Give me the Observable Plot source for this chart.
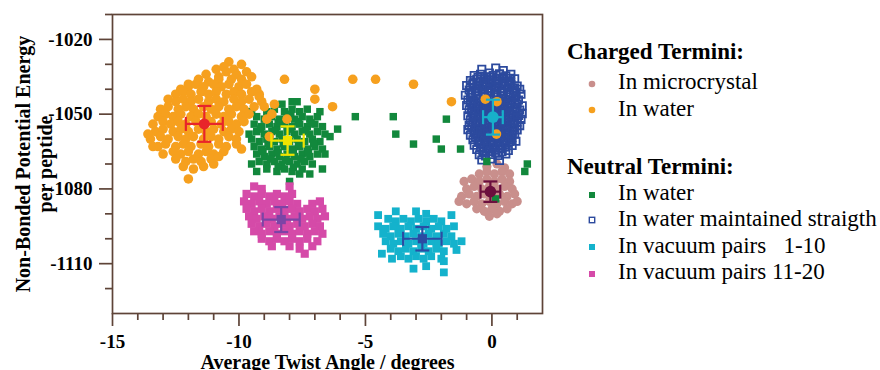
<!DOCTYPE html>
<html>
<head>
<meta charset="utf-8">
<script src="https://cdn.jsdelivr.net/npm/d3@7"></script>
<script src="https://cdn.jsdelivr.net/npm/@observablehq/plot@0.6"></script>
<style>
  html, body { margin: 0; padding: 0; background: #fff; }
  #wrap { position: relative; width: 880px; height: 370px; overflow: hidden;
          font-family: "Liberation Serif", "Times New Roman", serif; color: #000; }
  #chart { position: absolute; left: 0; top: 0; }
  .row { position: absolute; height: 26px; line-height: 26px; white-space: pre; font-size: 23px;
         font-family: "Liberation Serif", "Times New Roman", serif; }
  .hdr { font-weight: bold; }
  .mk { position: absolute; }
</style>
</head>
<body>
<div id="wrap"><div id="chart"></div></div>
<script>
// ---------------- data ----------------
const xMajorTicks = [-15, -10, -5, 0];
const xMinorTicks = [-14, -13, -12, -11, -9, -8, -7, -6, -4, -3, -2, -1, 1];
const yMajorTicks = [-1020, -1050, -1080, -1110];
const yMinorTicks = [-1010, -1030, -1040, -1060, -1070, -1090, -1100, -1120];

const xTitle = "Average Twist Angle / degrees";
const yTitle = "Non-Bonded Potential Energy\nper peptide";

const legendHeaders = ["Charged Termini:", "Neutral Termini:"];
const chargedLabels = ["In microcrystal", "In water"];
const neutralLabels = ["In water", "In water maintained straigth", "In vacuum pairs   1-10", "In vacuum pairs 11-20"];

// Charged termini, in microcrystal (circles)
const microcrystalPts = [
  [-0.2,-1071],[0.2,-1070],[0.5,-1071.5],
  [-0.5,-1074],[-0.2,-1073],[0.1,-1074],[0.4,-1073],[0.7,-1074],
  [-1.1,-1077],[-0.8,-1076],[-0.5,-1077],[-0.2,-1076],[0.1,-1077],[0.4,-1076],[0.7,-1077],
  [-1.0,-1080],[-0.7,-1079],[-0.4,-1080],[-0.1,-1079],[0.2,-1080],[0.5,-1079],[0.8,-1080],
  [-1.2,-1083],[-0.9,-1082],[-0.6,-1083],[-0.3,-1082],[0.0,-1083],[0.3,-1082],[0.6,-1083],[0.9,-1082],
  [-1.3,-1085],[-1.0,-1086],[-0.7,-1085],[-0.4,-1086],[-0.1,-1085],[0.2,-1086],[0.5,-1085],[0.8,-1086],[1.0,-1085],
  [-0.6,-1088],[-0.3,-1089],[0.0,-1088],[0.3,-1089],[0.6,-1088],
  [-0.1,-1091],[0.2,-1090]
];

// Charged termini, in water (circles)
const chargedWaterPts = [
  [-10.4,-1029],[-10.9,-1032],[-10.6,-1031],[-10.2,-1032],[-9.9,-1030],
  [-11.3,-1034],[-10.8,-1035],[-10.5,-1033],[-10.1,-1034],[-9.7,-1033],
  [-12.0,-1038],[-11.6,-1036],[-11.2,-1037],[-10.8,-1036],[-10.3,-1036],[-9.9,-1036],[-9.5,-1035],
  [-12.3,-1040],[-12.0,-1039],[-11.7,-1038],[-11.4,-1039],[-11.0,-1038],[-10.7,-1039],[-10.4,-1038],[-10.0,-1039],[-9.7,-1038],[-9.3,-1040],
  [-12.5,-1042],[-12.2,-1041],[-11.9,-1042],[-11.5,-1041],[-11.2,-1042],[-10.9,-1041],[-10.5,-1042],[-10.2,-1041],[-9.9,-1042],[-9.5,-1041],[-9.2,-1042],
  [-12.8,-1044],[-12.5,-1045],[-12.2,-1044],[-11.9,-1045],[-11.6,-1044],[-11.2,-1045],[-10.9,-1044],[-10.6,-1045],[-10.2,-1044],[-9.9,-1045],[-9.6,-1044],[-9.1,-1045],
  [-13.1,-1048],[-12.8,-1047],[-12.4,-1048],[-12.1,-1047],[-11.8,-1048],[-11.4,-1047],[-11.1,-1048],[-10.8,-1047],[-10.4,-1048],[-10.1,-1047],[-9.8,-1048],[-9.4,-1047],
  [-13.2,-1051],[-12.9,-1050],[-12.6,-1051],[-12.3,-1050],[-11.9,-1051],[-11.6,-1050],[-11.3,-1051],[-10.9,-1050],[-10.6,-1051],[-10.3,-1050],[-9.9,-1051],[-9.6,-1050],
  [-13.4,-1054],[-13.0,-1053],[-12.7,-1054],[-12.4,-1053],[-12.1,-1054],[-11.7,-1053],[-11.4,-1054],[-11.1,-1053],[-10.7,-1054],[-10.4,-1053],[-10.1,-1054],[-9.8,-1053],
  [-13.3,-1057],[-13.0,-1056],[-12.6,-1057],[-12.3,-1056],[-12.0,-1057],[-11.6,-1056],[-11.3,-1057],[-11.0,-1056],[-10.6,-1057],[-10.3,-1056],[-10.0,-1057],
  [-13.5,-1060],[-13.1,-1059],[-12.8,-1060],[-12.4,-1059],[-12.1,-1060],[-11.8,-1059],[-11.4,-1060],[-11.1,-1059],[-10.8,-1060],[-10.4,-1059],[-10.1,-1060],
  [-13.2,-1063],[-12.9,-1062],[-12.5,-1063],[-12.2,-1062],[-11.9,-1063],[-11.5,-1062],[-11.2,-1063],[-10.8,-1062],[-10.5,-1063],[-10.1,-1062],
  [-13.0,-1066],[-12.6,-1065],[-12.3,-1066],[-12.0,-1065],[-11.6,-1066],[-11.3,-1065],[-11.0,-1066],[-10.6,-1065],[-9.9,-1064],
  [-12.5,-1068],[-12.1,-1069],[-11.8,-1068],[-11.5,-1069],[-11.1,-1068],[-10.8,-1067],
  [-12.2,-1071],[-11.8,-1072],[-11.4,-1071],[-11.0,-1070],
  [-12.0,-1076],[-13.4,-1063],[-13.6,-1058],
  [-9.2,-1043],[-9.0,-1047],[-8.6,-1046],[-8.9,-1052],[-8.7,-1050],[-8.1,-1052],[-8.8,-1059],
  [-8.2,-1036],[-7.0,-1040],[-7.0,-1044],[-6.3,-1047],[-5.5,-1036],[-4.6,-1036],[-3.1,-1038],
  [-1.6,-1045],[-0.26,-1044],[0.2,-1045],[0.18,-1058]
];

// Neutral termini, in water (filled squares)
const neutralWaterPts = [
  [-8.3,-1046],[-7.9,-1045],
  [-8.9,-1049],[-8.6,-1048],[-8.2,-1049],[-7.9,-1048],[-7.6,-1049],[-7.3,-1048],
  [-9.3,-1051],[-9.0,-1052],[-8.7,-1051],[-8.4,-1052],[-8.1,-1051],[-7.8,-1052],[-7.5,-1051],[-7.2,-1052],[-6.9,-1051],
  [-9.4,-1054],[-9.1,-1055],[-8.8,-1054],[-8.5,-1055],[-8.2,-1054],[-7.9,-1055],[-7.6,-1054],[-7.3,-1055],[-7.0,-1054],[-6.7,-1055],
  [-9.6,-1058],[-9.3,-1057],[-9.0,-1058],[-8.7,-1057],[-8.4,-1058],[-8.1,-1057],[-7.8,-1058],[-7.5,-1057],[-7.2,-1058],[-6.9,-1057],[-6.6,-1058],
  [-9.5,-1060],[-9.2,-1061],[-8.9,-1060],[-8.6,-1061],[-8.3,-1060],[-8.0,-1061],[-7.7,-1060],[-7.4,-1061],[-7.1,-1060],[-6.8,-1061],
  [-9.4,-1063],[-9.1,-1064],[-8.8,-1063],[-8.5,-1064],[-8.2,-1063],[-7.9,-1064],[-7.6,-1063],[-7.3,-1064],[-7.0,-1063],[-6.7,-1064],
  [-9.3,-1066],[-9.0,-1067],[-8.7,-1066],[-8.4,-1067],[-8.1,-1066],[-7.8,-1067],[-7.5,-1066],[-7.2,-1067],[-6.9,-1066],
  [-9.2,-1069],[-8.9,-1070],[-8.6,-1069],[-8.3,-1070],[-8.0,-1069],[-7.7,-1070],[-7.4,-1069],[-7.1,-1070],
  [-8.9,-1072],[-8.5,-1073],[-8.2,-1072],[-7.9,-1073],[-7.5,-1072],
  [-8.75,-1050.5],[-8.45,-1053.5],[-7.95,-1050],[-7.65,-1053],[-7.15,-1053.5],[-9.15,-1056],[-8.55,-1056.5],[-7.95,-1056],
  [-7.35,-1056.5],[-8.85,-1062],[-8.25,-1061.8],[-7.65,-1062.3],[-7.05,-1061.7],[-9.05,-1065],[-8.45,-1065.5],[-7.85,-1065],
  [-7.25,-1065.5],[-8.75,-1068],[-8.15,-1068.5],[-7.55,-1068],[-8.45,-1071],[-7.85,-1071.3],
  [-9.5,-1070],[-9.3,-1073],[-8.0,-1077],[-7.6,-1074],[-7.2,-1074],[-6.6,-1066],[-6.7,-1072],
  [-6.4,-1059],[-6.1,-1056],[-6.8,-1049],[-7.7,-1045],[-9.5,-1049],
  [-5.4,-1051],[-3.9,-1051],[-3.8,-1058],[-3.1,-1062],[-2.2,-1060],[-2.0,-1064],[-1.8,-1052],
  [-1.24,-1064],[-0.2,-1069],[1.4,-1070],[1.3,-1073],[0.15,-1084]
];

// Neutral termini, in water maintained straight (open squares)
const straightPts = [
  [-0.4,-1032],[-0.1,-1033.5],[0.15,-1031.5],[0.45,-1032.5],
  [-0.7,-1034.5],[-0.45,-1034],[-0.2,-1035],[0.05,-1034.5],[0.3,-1033.8],[0.55,-1034.6],[0.75,-1034],
  [-0.85,-1036.5],[-0.6,-1036],[-0.35,-1037],[-0.1,-1036.2],[0.15,-1036.8],[0.4,-1036],[0.65,-1036.6],[0.9,-1035.8],
  [-1.0,-1038.5],[-0.75,-1038],[-0.5,-1038.8],[-0.25,-1038.2],[0,-1038.6],[0.25,-1037.8],[0.5,-1038.5],[0.75,-1038.1],[1.0,-1038.7],
  [-0.9,-1040.3],[-0.65,-1040.8],[-0.4,-1040],[-0.15,-1040.6],[0.1,-1040.2],[0.35,-1040.9],[0.6,-1040.1],[0.85,-1040.5],[1.1,-1040],
  [-1.05,-1042.4],[-0.8,-1042],[-0.55,-1042.7],[-0.3,-1042.1],[-0.05,-1042.5],[0.2,-1041.9],[0.45,-1042.6],[0.7,-1042.2],[0.95,-1042.8],[1.15,-1042],
  [-0.95,-1044.3],[-0.7,-1044.8],[-0.45,-1044],[-0.2,-1044.6],[0.05,-1044.2],[0.3,-1044.9],[0.55,-1044.1],[0.8,-1044.5],[1.05,-1044.3],
  [-1.0,-1046.5],[-0.75,-1046],[-0.5,-1046.7],[-0.25,-1046.2],[0,-1046.6],[0.25,-1046.1],[0.5,-1046.8],[0.75,-1046.3],[1.0,-1046],[1.2,-1046.6],
  [-0.9,-1048.2],[-0.65,-1048.7],[-0.4,-1048.1],[-0.15,-1048.5],[0.1,-1048],[0.35,-1048.6],[0.6,-1048.2],[0.85,-1048.8],[1.1,-1048.3],
  [-0.95,-1050.6],[-0.7,-1050.1],[-0.45,-1050.5],[-0.2,-1050],[0.05,-1050.7],[0.3,-1050.2],[0.55,-1050.6],[0.8,-1050.1],[1.05,-1050.5],[1.2,-1049.8],
  [-0.85,-1052.3],[-0.6,-1052.8],[-0.35,-1052.1],[-0.1,-1052.6],[0.15,-1052.2],[0.4,-1052.9],[0.65,-1052.3],[0.9,-1052.7],[1.15,-1052.1],
  [-0.9,-1054.5],[-0.65,-1054],[-0.4,-1054.6],[-0.15,-1054.2],[0.1,-1054.8],[0.35,-1054.1],[0.6,-1054.5],[0.85,-1054],[1.1,-1054.6],
  [-0.95,-1056.2],[-0.7,-1056.7],[-0.45,-1056.1],[-0.2,-1056.5],[0.05,-1056],[0.3,-1056.6],[0.55,-1056.2],[0.8,-1056.8],[1.0,-1056.3],
  [-0.85,-1058.4],[-0.6,-1058],[-0.35,-1058.6],[-0.1,-1058.1],[0.15,-1058.7],[0.4,-1058.2],[0.65,-1058.5],[0.9,-1058],
  [-0.75,-1060.3],[-0.5,-1060.8],[-0.25,-1060.2],[0,-1060.6],[0.25,-1060.1],[0.5,-1060.7],[0.75,-1060.3],[0.95,-1060.9],
  [-0.7,-1062.5],[-0.45,-1062],[-0.2,-1062.6],[0.05,-1062.2],[0.3,-1062.8],[0.55,-1062.3],[0.8,-1062.6],
  [-0.6,-1064.2],[-0.35,-1064.7],[-0.1,-1064.1],[0.15,-1064.5],[0.4,-1064],[0.65,-1064.6],
  [-0.5,-1066.3],[-0.25,-1066.8],[0,-1066.2],[0.25,-1066.6],[0.55,-1066],
  [-0.4,-1068.4],[-0.05,-1068],[0.3,-1068.6],
  [-0.55,-1035.3],[-0.3,-1035.8],[-0.05,-1035.2],[0.2,-1035.7],[0.45,-1035.1],[0.7,-1035.6],
  [-0.75,-1037.4],[-0.5,-1037.1],[-0.25,-1037.6],[0,-1037.2],[0.25,-1037.5],[0.5,-1037],[0.75,-1037.4],
  [-0.85,-1039.2],[-0.6,-1039.7],[-0.35,-1039.1],[-0.1,-1039.6],[0.15,-1039.3],[0.4,-1039.8],[0.65,-1039.2],[0.9,-1039.5],
  [-0.8,-1041.4],[-0.55,-1041],[-0.3,-1041.5],[-0.05,-1041.1],[0.2,-1041.6],[0.45,-1041.2],[0.7,-1041.5],[0.95,-1041.1],
  [-0.85,-1043.2],[-0.6,-1043.6],[-0.35,-1043.1],[-0.1,-1043.5],[0.15,-1043],[0.4,-1043.6],[0.65,-1043.2],[0.9,-1043.4],
  [-0.85,-1045.4],[-0.6,-1045.1],[-0.35,-1045.6],[-0.1,-1045.2],[0.15,-1045.5],[0.4,-1045],[0.65,-1045.4],[0.9,-1045.2],
  [-0.8,-1047.3],[-0.55,-1047.7],[-0.3,-1047.2],[-0.05,-1047.6],[0.2,-1047.1],[0.45,-1047.5],[0.7,-1047.2],[0.95,-1047.6],
  [-0.8,-1049.4],[-0.55,-1049],[-0.3,-1049.5],[-0.05,-1049.1],[0.2,-1049.4],[0.45,-1049],[0.7,-1049.5],[0.95,-1049.2],
  [-0.75,-1051.2],[-0.5,-1051.6],[-0.25,-1051.1],[0,-1051.5],[0.25,-1051.2],[0.5,-1051.7],[0.75,-1051.1],[1.0,-1051.4],
  [-0.75,-1053.4],[-0.5,-1053],[-0.25,-1053.5],[0,-1053.1],[0.25,-1053.6],[0.5,-1053.2],[0.75,-1053.5],[1.0,-1053.1],
  [-0.8,-1055.3],[-0.55,-1055.7],[-0.3,-1055.2],[-0.05,-1055.6],[0.2,-1055.1],[0.45,-1055.5],[0.7,-1055.2],[0.9,-1055.6],
  [-0.7,-1057.4],[-0.45,-1057],[-0.2,-1057.5],[0.05,-1057.2],[0.3,-1057.6],[0.55,-1057.1],[0.8,-1057.4],
  [-0.65,-1059.2],[-0.4,-1059.6],[-0.15,-1059.1],[0.1,-1059.5],[0.35,-1059.2],[0.6,-1059.7],[0.8,-1059.3],
  [-0.55,-1061.3],[-0.3,-1061],[-0.05,-1061.5],[0.2,-1061.1],[0.45,-1061.4],[0.7,-1061],
  [-0.45,-1063.2],[-0.2,-1063.6],[0.05,-1063.1],[0.3,-1063.5],[0.55,-1063.2],
  [-0.35,-1065.3],[-0.1,-1065],[0.15,-1065.5],[0.4,-1065.1]
];

// Neutral termini, in vacuum pairs 1-10 (filled squares)
const vacuum1Pts = [
  [-3.8,-1089],[-3.0,-1089],[-2.6,-1090],[-4.5,-1090.5],[-1.6,-1090.5],
  [-4.1,-1092],[-3.8,-1093],[-3.5,-1092],[-3.2,-1093],[-2.9,-1092],[-2.6,-1093],[-2.3,-1092],[-2.0,-1093],
  [-4.5,-1095],[-4.2,-1096],[-3.9,-1095],[-3.6,-1096],[-3.3,-1095],[-3.0,-1096],[-2.7,-1095],[-2.4,-1096],[-2.1,-1095],[-1.8,-1096],[-1.5,-1095],
  [-4.3,-1098],[-4.0,-1099],[-3.7,-1098],[-3.4,-1099],[-3.1,-1098],[-2.8,-1099],[-2.5,-1098],[-2.2,-1099],[-1.9,-1098],[-1.6,-1099],
  [-4.2,-1101],[-3.9,-1102],[-3.6,-1101],[-3.3,-1102],[-3.0,-1101],[-2.7,-1102],[-2.4,-1101],[-2.1,-1102],[-1.8,-1101],[-1.5,-1102],[-1.2,-1101],
  [-4.0,-1104],[-3.7,-1105],[-3.4,-1104],[-3.1,-1105],[-2.8,-1104],[-2.5,-1105],[-2.2,-1104],[-1.9,-1105],[-1.4,-1104.5],
  [-4.35,-1106],[-3.6,-1107],[-3.3,-1108],[-3.0,-1107],[-2.7,-1108],[-2.4,-1107],[-2.0,-1108],[-3.95,-1108],
  [-3.1,-1112],[-2.6,-1111],[-1.9,-1109],[-1.9,-1113.5]
];

// Neutral termini, in vacuum pairs 11-20 (filled squares)
const vacuum2Pts = [
  [-9.4,-1079],[-9.1,-1080],[-8.0,-1079],
  [-9.7,-1082],[-9.4,-1083],[-9.1,-1082],[-8.8,-1083],[-8.5,-1082],[-8.2,-1083],[-7.9,-1082],
  [-9.8,-1085],[-9.5,-1086],[-9.2,-1085],[-8.9,-1086],[-8.6,-1085],[-8.3,-1086],[-8.0,-1085],[-7.7,-1086],[-7.1,-1086],[-6.8,-1085],
  [-9.7,-1088],[-9.4,-1089],[-9.1,-1088],[-8.8,-1089],[-8.5,-1088],[-8.2,-1089],[-7.9,-1088],[-7.6,-1089],[-7.3,-1088],[-7.0,-1089],[-6.7,-1088],
  [-9.6,-1091],[-9.3,-1092],[-9.0,-1091],[-8.7,-1092],[-8.4,-1091],[-8.1,-1092],[-7.8,-1091],[-7.5,-1092],[-7.2,-1091],[-6.9,-1092],[-6.6,-1091],
  [-9.5,-1094],[-9.2,-1095],[-8.9,-1094],[-8.6,-1095],[-8.3,-1094],[-8.0,-1095],[-7.7,-1094],[-7.4,-1095],[-7.1,-1094],[-6.8,-1095],
  [-9.4,-1097],[-9.1,-1098],[-8.8,-1097],[-8.5,-1098],[-8.2,-1097],[-7.9,-1098],[-7.6,-1097],[-7.3,-1098],[-7.0,-1097],[-6.7,-1098],
  [-9.1,-1100],[-8.8,-1101],[-8.5,-1100],[-8.2,-1101],[-7.9,-1100],[-7.6,-1101],[-7.3,-1100],[-6.9,-1101],
  [-8.7,-1103],[-8.0,-1103],[-7.6,-1104],[-7.1,-1103],[-7.4,-1106]
];

// Series means with error bars (order: microcrystal, charged water, neutral water, straight, vacuum 1-10, vacuum 11-20)
const meanX = [-0.06, -11.37, -8.08, 0.04, -2.75, -8.33];
const meanY = [-1081.1, -1053.9, -1060.6, -1051.2, -1100.0, -1092.3];
const errX  = [0.39, 0.73, 0.64, 0.39, 0.76, 0.73];
const errY  = [4.1, 7.2, 5.7, 7.0, 4.7, 5.0];

// ---------------- styles ----------------
const axisColor = "#5e4438";
const FONT = "Liberation Serif";
const C = {
  micro: "#c98f8c", chargedWater: "#f6a01e", neutralWater: "#12883c",
  straight: "#2c4a9e", vac1: "#14b2cc", vac2: "#d54aa8"
};
const meanColors = ["#6b0f3e", "#e8252a", "#f0e400", "#17b0ca", "#2b4ba3", "#7c44a6"];
const meanSymbols = ["circle", "circle", "square", "circle", "square", "square"];
const meanR = [5.8, 5.5, 5.2, 5.8, 5.2, 5.2];

const vBar = {draw(ctx, size) { const h = Math.sqrt(size / Math.PI); ctx.moveTo(0, -h); ctx.lineTo(0, h); }};
const hBar = {draw(ctx, size) { const h = Math.sqrt(size / Math.PI); ctx.moveTo(-h, 0); ctx.lineTo(h, 0); }};

const px = d => d[0], py = d => d[1];

const means = meanX.map((x, i) => ({x, y: meanY[i], ex: errX[i], ey: errY[i], i}));

const meanMarks = [];
means.forEach(m => {
  const col = meanColors[m.i];
  const one = [m];
  meanMarks.push(
    Plot.link(one, {x1: d => d.x - d.ex, x2: d => d.x + d.ex, y1: "y", y2: "y", stroke: col, strokeWidth: 2.2}),
    Plot.link(one, {x1: "x", x2: "x", y1: d => d.y - d.ey, y2: d => d.y + d.ey, stroke: col, strokeWidth: 2.2}),
    Plot.dot(one, {x: d => d.x - d.ex, y: "y", symbol: vBar, r: 7, stroke: col, strokeWidth: 2.2, fill: "none"}),
    Plot.dot(one, {x: d => d.x + d.ex, y: "y", symbol: vBar, r: 7, stroke: col, strokeWidth: 2.2, fill: "none"}),
    Plot.dot(one, {x: "x", y: d => d.y - d.ey, symbol: hBar, r: 7, stroke: col, strokeWidth: 2.2, fill: "none"}),
    Plot.dot(one, {x: "x", y: d => d.y + d.ey, symbol: hBar, r: 7, stroke: col, strokeWidth: 2.2, fill: "none"}),
    Plot.dot(one, {x: "x", y: "y", symbol: meanSymbols[m.i], r: meanR[m.i], fill: col, stroke: "none"})
  );
});

const axisCommon = {stroke: axisColor, strokeWidth: 1.7, fontFamily: FONT, fontWeight: "bold", fontSize: 19, color: "#000"};

const chart = Plot.plot({
  width: 550, height: 370,
  marginLeft: 112, marginRight: 8, marginTop: 14, marginBottom: 57,
  x: {domain: [-15, 2]},
  y: {domain: [-1130, -1010]},
  style: {fontFamily: FONT, fontSize: "19px", color: "#000", background: "transparent", overflow: "visible"},
  marks: [
    Plot.axisX({...axisCommon, ticks: xMinorTicks, tickSize: 7, tickFormat: () => "", label: null}),
    Plot.axisX({...axisCommon, ticks: xMajorTicks, tickSize: 13, tickPadding: 8, tickFormat: d => `${d}`, label: null}),
    Plot.axisY({...axisCommon, ticks: yMinorTicks, tickSize: 7, tickFormat: () => "", label: null}),
    Plot.axisY({...axisCommon, ticks: yMajorTicks, tickSize: 13, tickPadding: 7, tickFormat: d => `${d}`, label: null}),
    Plot.frame({stroke: axisColor, strokeWidth: 1.7}),
    Plot.text([xTitle], {frameAnchor: "bottom", textAnchor: "middle", lineAnchor: "top", dy: 41, fontSize: 20, fontWeight: "bold", fontFamily: FONT, fill: "#000"}),
    Plot.text([yTitle], {frameAnchor: "left", textAnchor: "middle", lineAnchor: "top", rotate: -90, dx: -98, lineHeight: 1.1, fontSize: 20, fontWeight: "bold", fontFamily: FONT, fill: "#000"}),
    Plot.dot(microcrystalPts, {x: px, y: py, r: 4.6, fill: C.micro}),
    Plot.dot(straightPts, {x: px, y: py, symbol: "square", r: 4.1, fill: "none", stroke: C.straight, strokeWidth: 1.8}),
    Plot.dot(neutralWaterPts, {x: px, y: py, symbol: "square", r: 4.2, fill: C.neutralWater}),
    Plot.dot(chargedWaterPts, {x: px, y: py, r: 4.8, fill: C.chargedWater}),
    Plot.dot(vacuum2Pts, {x: px, y: py, symbol: "square", r: 4.6, fill: C.vac2}),
    Plot.dot(vacuum1Pts, {x: px, y: py, symbol: "square", r: 4.4, fill: C.vac1}),
    ...meanMarks
  ]
});
document.getElementById("chart").appendChild(chart);

// ---------------- legend ----------------
const wrap = document.getElementById("wrap");
function addRow(text, baseline, cls, left) {
  const d = document.createElement("div");
  d.className = "row " + cls;
  d.textContent = text;
  d.style.left = left + "px";
  d.style.top = (baseline - 20.8) + "px";
  wrap.appendChild(d);
}
function addMarker(kind, color, yc) {
  const s = document.createElementNS("http://www.w3.org/2000/svg", "svg");
  s.setAttribute("width", 12); s.setAttribute("height", 12);
  s.setAttribute("class", "mk");
  s.style.left = (592 - 6) + "px"; s.style.top = (yc - 6) + "px";
  let el;
  if (kind === "circle") {
    el = document.createElementNS(s.namespaceURI, "circle");
    el.setAttribute("cx", 6); el.setAttribute("cy", 6); el.setAttribute("r", 3.3);
    el.setAttribute("fill", color);
  } else if (kind === "open") {
    el = document.createElementNS(s.namespaceURI, "rect");
    el.setAttribute("x", 3.3); el.setAttribute("y", 3.3); el.setAttribute("width", 5.4); el.setAttribute("height", 5.4);
    el.setAttribute("fill", "none"); el.setAttribute("stroke", color); el.setAttribute("stroke-width", 1.4);
  } else {
    el = document.createElementNS(s.namespaceURI, "rect");
    el.setAttribute("x", 3); el.setAttribute("y", 3); el.setAttribute("width", 6); el.setAttribute("height", 6);
    el.setAttribute("fill", color);
  }
  s.appendChild(el);
  wrap.appendChild(s);
}
// baselines of the legend lines (px)
const headerBase = [59.5, 175];
const chargedBase = [90, 116.7];
const neutralBase = [201, 226.5, 253.3, 280];
const markerLift = 6.5;
const chargedMk = [["circle", C.micro], ["circle", C.chargedWater]];
const neutralMk = [["square", C.neutralWater], ["open", C.straight], ["square", C.vac1], ["square", C.vac2]];
legendHeaders.forEach((t, i) => addRow(t, headerBase[i], "hdr", 567));
chargedLabels.forEach((t, i) => { addRow(t, chargedBase[i], "item", 618); addMarker(chargedMk[i][0], chargedMk[i][1], chargedBase[i] - markerLift); });
neutralLabels.forEach((t, i) => { addRow(t, neutralBase[i], "item", 618); addMarker(neutralMk[i][0], neutralMk[i][1], neutralBase[i] - markerLift); });
</script>
</body>
</html>
